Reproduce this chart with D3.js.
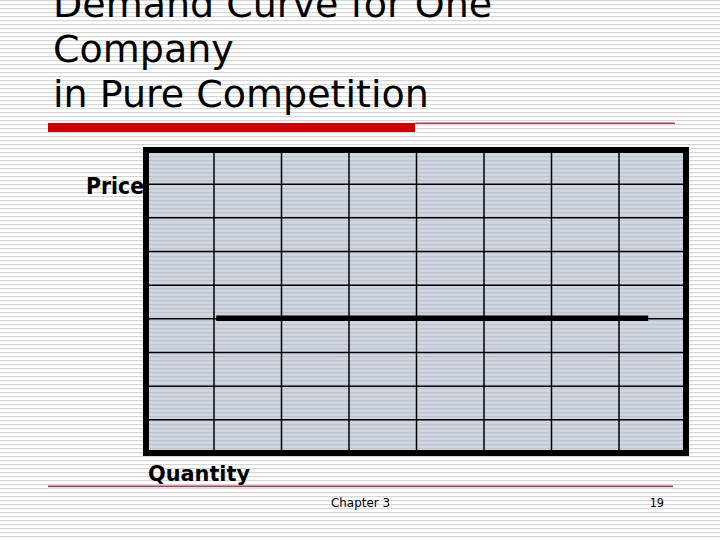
<!DOCTYPE html>
<html>
<head>
<meta charset="utf-8">
<script src="https://cdn.jsdelivr.net/npm/d3@7"></script>
<style>
  html, body { margin: 0; padding: 0; background: #fff; }
  svg { display: block; }
</style>
</head>
<body>
<script>
// ---- data ----
const titleLines = ["Demand Curve for One", "Company", "in Pure Competition"];
const quantityTicks = [0, 1, 2, 3, 4, 5, 6, 7, 8];
const priceTicks = [0, 1, 2, 3, 4, 5, 6, 7, 8, 9];
const demandQuantity = [1.04, 7.44];
const demandPrice = [4, 4];
const xLabel = "Quantity";
const yLabel = "Price";
const footerText = "Chapter 3";
const pageNumber = "19";

const W = 720, H = 540;
const svg = d3.select("body").append("svg").attr("width", W).attr("height", H);

const defs = svg.append("defs");
const pat = defs.append("pattern").attr("id", "stripes")
  .attr("patternUnits", "userSpaceOnUse").attr("width", 8).attr("height", 4);
pat.append("rect").attr("x", 0).attr("y", 0).attr("width", 8).attr("height", 1.2).attr("fill", "#d6d6d6");

const pat2 = defs.append("pattern").attr("id", "stripes2")
  .attr("patternUnits", "userSpaceOnUse").attr("width", 8).attr("height", 4);
pat2.append("rect").attr("x", 0).attr("y", 0).attr("width", 8).attr("height", 1.2).attr("fill", "#bcc4d0");

// background
svg.append("rect").attr("width", W).attr("height", H).attr("fill", "#fff");
svg.append("rect").attr("width", W).attr("height", H).attr("fill", "url(#stripes)");

// title
svg.append("g").selectAll("text").data(titleLines).join("text")
  .attr("x", 53)
  .attr("y", (d, i) => 17 + i * 45)
  .attr("font-family", "'DejaVu Sans', Verdana, sans-serif")
  .attr("font-size", 38)
  .attr("fill", "#000")
  .text(d => d);

// title rules
svg.append("rect").attr("x", 415).attr("y", 124).attr("width", 260).attr("height", 1.5).attr("fill", "#f2d4d8");
svg.append("rect").attr("x", 415).attr("y", 122.6).attr("width", 260).attr("height", 1.2).attr("fill", "#7a1a26");
svg.append("rect").attr("x", 48).attr("y", 123).attr("width", 367).attr("height", 9).attr("fill", "#cc0000");

// scales
const x = d3.scaleLinear().domain([0, 8]).range([146, 686]);
const y = d3.scaleLinear().domain([0, 9]).range([453, 150]);

// panel
const panel = svg.append("g");
panel.append("rect").attr("x", x(0)).attr("y", y(9)).attr("width", x(8) - x(0)).attr("height", y(0) - y(9))
  .attr("fill", "#cfd5de");
panel.append("rect").attr("x", x(0)).attr("y", y(9)).attr("width", x(8) - x(0)).attr("height", y(0) - y(9))
  .attr("fill", "url(#stripes2)");

// grid via axes
const xGrid = d3.axisBottom(x).tickValues(quantityTicks.slice(1, -1)).tickSize(-(y(0) - y(9))).tickFormat("");
const yGrid = d3.axisLeft(y).tickValues(priceTicks.slice(1, -1)).tickSize(-(x(8) - x(0))).tickFormat("");
const gx = panel.append("g").attr("transform", `translate(0,${y(0)})`).call(xGrid);
const gy = panel.append("g").attr("transform", `translate(${x(0)},0)`).call(yGrid);
[gx, gy].forEach(g => {
  g.select(".domain").remove();
  g.selectAll("line").attr("stroke", "#000").attr("stroke-width", 1.5);
});

// demand line
const line = d3.line().x(d => x(d[0])).y(d => y(d[1]));
panel.append("path")
  .datum(d3.zip(demandQuantity, demandPrice))
  .attr("d", line)
  .attr("fill", "none")
  .attr("stroke", "#000")
  .attr("stroke-width", 5.5)
  .attr("stroke-linecap", "butt");

// border
panel.append("rect").attr("x", x(0)).attr("y", y(9)).attr("width", x(8) - x(0)).attr("height", y(0) - y(9))
  .attr("fill", "none").attr("stroke", "#000").attr("stroke-width", 6);

// axis labels
svg.append("text").attr("x", 86).attr("y", 194)
  .attr("font-family", "'DejaVu Sans Condensed', 'DejaVu Sans', sans-serif")
  .attr("font-weight", "bold").attr("font-size", 23)
  .attr("textLength", 58).attr("lengthAdjust", "spacingAndGlyphs")
  .text(yLabel);
svg.append("text").attr("x", 148).attr("y", 481)
  .attr("font-family", "'DejaVu Sans Condensed', 'DejaVu Sans', sans-serif")
  .attr("font-weight", "bold").attr("font-size", 22)
  .attr("textLength", 102).attr("lengthAdjust", "spacingAndGlyphs")
  .text(xLabel);

// footer rule
svg.append("rect").attr("x", 48).attr("y", 487).attr("width", 625).attr("height", 2).attr("fill", "#f4dadd");
svg.append("rect").attr("x", 48).attr("y", 485.6).attr("width", 625).attr("height", 1.2).attr("fill", "#6e2434");

// footer text
svg.append("text").attr("x", 331).attr("y", 507)
  .attr("font-family", "'DejaVu Sans Condensed', 'DejaVu Sans', sans-serif")
  .attr("font-size", 12.5)
  .attr("textLength", 59).attr("lengthAdjust", "spacingAndGlyphs")
  .text(footerText);
svg.append("text").attr("x", 664).attr("y", 507).attr("text-anchor", "end")
  .attr("font-family", "'DejaVu Sans Condensed', 'DejaVu Sans', sans-serif")
  .attr("font-size", 12.5)
  .text(pageNumber);
</script>
</body>
</html>
